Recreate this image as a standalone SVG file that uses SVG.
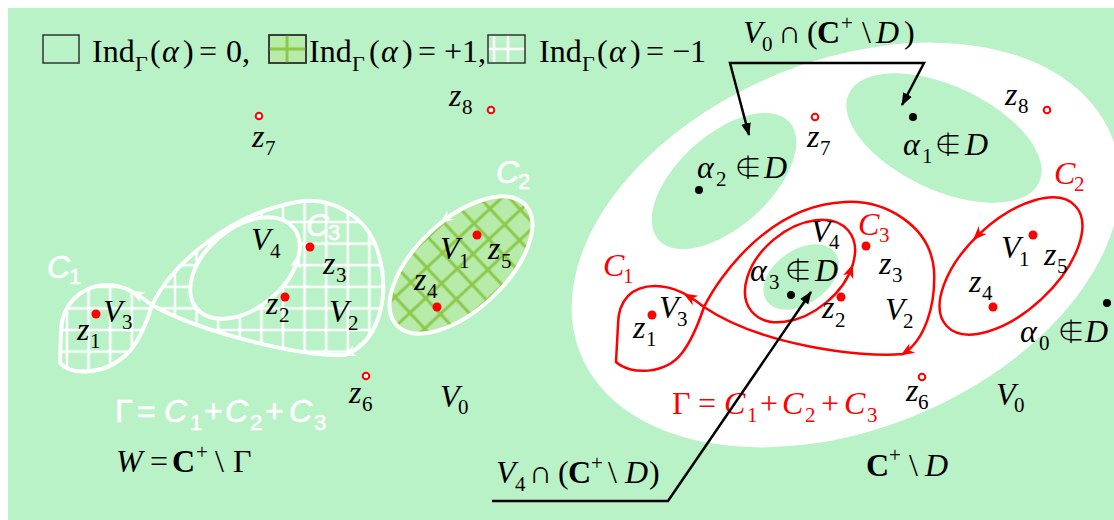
<svg xmlns="http://www.w3.org/2000/svg" xmlns:xlink="http://www.w3.org/1999/xlink" width="1114" height="520" viewBox="0 0 1114 520">
<style>
.bg{fill:#baf2c7}
.m{font-family:"Liberation Serif","Times New Roman",serif;font-size:32px;fill:#000}
.i{font-style:italic}
.s{font-size:21px}
.ls{font-size:22px}
.b{font-weight:bold}
.red{fill:#f00}
.ne{font-family:"Noto Sans CJK JP","DejaVu Sans",sans-serif;font-weight:300;font-size:28px}
.a{font-family:"Liberation Sans",Arial,sans-serif;font-size:32px;fill:#fff;stroke:#fff;stroke-width:0.6}
.ai{font-style:italic}
.as{font-size:22px}
.wc{fill:none;stroke:#fff;stroke-width:4}
.rc{fill:none;stroke:#f00;stroke-width:2.5}
.rd{fill:#f00}
.oc{fill:#fff;stroke:#f00;stroke-width:2}
.bd{fill:#000}
.cn{fill:none;stroke:#000;stroke-width:2.5}
.lb{stroke:#333;stroke-width:1.5}
</style>
<defs>
<pattern id="gw" patternUnits="userSpaceOnUse" x="56.2" y="211.2" width="21.6" height="21.6"><path d="M10.8 0V21.6M0 10.8H21.6" stroke="#fff" stroke-width="2.5"/></pattern>
<pattern id="gg" patternUnits="userSpaceOnUse" x="56.2" y="211.2" width="21.6" height="21.6"><rect width="21.6" height="21.6" fill="#b7eba9"/><path d="M10.8 0V21.6M0 10.8H21.6" stroke="#8dc84a" stroke-width="3"/></pattern>
<path id="ah" d="M3,0 L-11,-5.5 L-7,0 L-11,5.5 Z"/>
<marker id="mk" viewBox="0 0 12 10" refX="11" refY="5" markerWidth="13" markerHeight="11" markerUnits="userSpaceOnUse" orient="auto-start-reverse"><path d="M0,0.5 L12,5 L0,9.5 Z" fill="#000"/></marker>
</defs>
<rect width="1114" height="520" fill="#fff"/>
<rect class="bg" x="8" y="8" width="1106" height="512"/>

<g id="legend">
<rect x="43" y="35" width="36" height="28" fill="none" class="lb"/>
<rect x="269" y="35" width="37" height="28" fill="#b7eba9" class="lb"/>
<path d="M287 35V63M269 49H306" stroke="#8dc84a" stroke-width="3"/>
<rect x="269" y="35" width="37" height="28" fill="none" class="lb"/>
<path d="M508 35V63M494 35V63M488 49H525" stroke="#fff" stroke-width="2.5"/>
<rect x="488" y="35" width="37" height="28" fill="none" class="lb"/>
<text class="m" y="62"><tspan x="92">Ind</tspan><tspan x="135" y="71" class="ls">Γ</tspan><tspan x="150" y="62">(</tspan><tspan x="162" class="i">α</tspan><tspan x="183">)</tspan><tspan x="199">=</tspan><tspan x="226">0,</tspan></text>
<text class="m" y="62"><tspan x="309">Ind</tspan><tspan x="352" y="71" class="ls">Γ</tspan><tspan x="369" y="62">(</tspan><tspan x="381" class="i">α</tspan><tspan x="402">)</tspan><tspan x="418">=</tspan><tspan x="444">+1,</tspan></text>
<text class="m" y="62"><tspan x="539">Ind</tspan><tspan x="582" y="71" class="ls">Γ</tspan><tspan x="597" y="62">(</tspan><tspan x="609" class="i">α</tspan><tspan x="630">)</tspan><tspan x="646">=</tspan><tspan x="672">−1</tspan></text>
</g>

<g id="left-figure">
<path fill="url(#gw)" fill-rule="evenodd" d="M152,305 C170,268 225,215 297,202 C330,196 367,215 378,252 C390,292 382,340 345,355 C300,357 200,332 152,305 C135,292 122,284 104,285 C80,287 62,305 61,330 L60,363 C72,376 105,375 127,354 C138,343 146,325 152,305 Z M293.3,227.5 A63,40 -40 1,0 196.7,308.5 A63,40 -40 1,0 293.3,227.5 Z"/>
<path class="wc" d="M152,305 C170,268 225,215 297,202 C330,196 367,215 378,252 C390,292 382,340 345,355 C300,357 200,332 152,305 C135,292 122,284 104,285 C80,287 62,305 61,330 L60,363 C72,376 105,375 127,354 C138,343 146,325 152,305 Z"/>
<ellipse class="wc" cx="245" cy="268" rx="63" ry="40" transform="rotate(-40 245 268)"/>
<ellipse cx="461" cy="265" rx="88" ry="45" transform="rotate(-43 461 265)" fill="url(#gg)"/>
<ellipse class="wc" cx="461" cy="265" rx="88" ry="45" transform="rotate(-43 461 265)"/>
<use xlink:href="#ah" fill="#fff" transform="translate(133,292) rotate(209)"/>
<use xlink:href="#ah" fill="#fff" transform="translate(345,355) rotate(158)"/>
<use xlink:href="#ah" fill="#fff" transform="translate(298,257) rotate(-77)"/>
<use xlink:href="#ah" fill="#fff" transform="translate(442,222) rotate(142)"/>
<circle class="rd" cx="310" cy="247" r="4.5"/>
<circle class="rd" cx="285" cy="297" r="4.5"/>
<circle class="rd" cx="96" cy="314" r="4.5"/>
<circle class="rd" cx="477" cy="235" r="4.5"/>
<circle class="rd" cx="437" cy="307" r="4.5"/>
<circle class="oc" cx="259" cy="116" r="3.3"/>
<circle class="oc" cx="491" cy="110" r="3.3"/>
<circle class="oc" cx="366" cy="376" r="3.3"/>
<text class="a ai" x="47" y="278">C</text><text class="a as" x="69" y="284">1</text>
<text class="a ai" x="306" y="236">C</text><text class="a as" x="328" y="240">3</text>
<text class="a ai" x="496" y="183">C</text><text class="a as" x="518" y="189">2</text>
<text class="m i" x="252" y="147">z</text><text class="m s" x="265" y="155">7</text>
<text class="m i" x="449" y="106">z</text><text class="m s" x="462" y="114">8</text>
<text class="m i" x="251" y="250">V</text><text class="m s" x="270" y="258">4</text>
<text class="m i" x="323" y="274">z</text><text class="m s" x="336" y="282">3</text>
<text class="m i" x="266" y="314">z</text><text class="m s" x="279" y="322">2</text>
<text class="m i" x="329" y="322">V</text><text class="m s" x="348" y="330">2</text>
<text class="m i" x="103" y="322">V</text><text class="m s" x="122" y="329">3</text>
<text class="m i" x="77" y="340">z</text><text class="m s" x="90" y="348">1</text>
<text class="m i" x="440" y="259">V</text><text class="m s" x="459" y="268">1</text>
<text class="m i" x="488" y="259">z</text><text class="m s" x="501" y="268">5</text>
<text class="m i" x="414" y="290">z</text><text class="m s" x="427" y="298">4</text>
<text class="m i" x="349" y="403">z</text><text class="m s" x="362" y="411">6</text>
<text class="m i" x="440" y="407">V</text><text class="m s" x="458" y="414">0</text>
<text class="a" y="422"><tspan x="115">Γ</tspan><tspan x="137">=</tspan><tspan x="164" class="ai">C</tspan><tspan x="190" y="430" class="as">1</tspan><tspan x="204" y="422">+</tspan><tspan x="225" class="ai">C</tspan><tspan x="250" y="430" class="as">2</tspan><tspan x="265" y="422">+</tspan><tspan x="289" class="ai">C</tspan><tspan x="314" y="430" class="as">3</tspan></text>
<text class="m" y="472"><tspan x="116" class="i">W</tspan><tspan x="150">=</tspan><tspan x="172" class="b">C</tspan><tspan x="196" y="459" class="s">+</tspan><tspan x="215" y="472">\</tspan><tspan x="233">Γ</tspan></text>
</g>

<g id="right-figure">
<ellipse cx="846" cy="245" rx="287" ry="184" transform="rotate(-22.5 846 245)" fill="#fff"/>
<ellipse class="bg" cx="724" cy="181" rx="88" ry="46" transform="rotate(-42 724 181)"/>
<ellipse class="bg" cx="944" cy="138" rx="105" ry="52" transform="rotate(25 944 138)"/>
<ellipse class="bg" cx="801" cy="277" rx="42" ry="27" transform="rotate(-35 801 277)"/>
<path class="rc" d="M704,307 C720,275 770,205 845,202 C885,200 930,225 934,270 C936,305 925,340 903,354 C860,358 760,345 704,307 C690,296 675,286 655,286 C632,286 618,300 618,325 L616,362 C630,375 665,375 682,353 C692,340 698,325 704,307 Z"/>
<ellipse class="rc" cx="800" cy="271" rx="63" ry="41" transform="rotate(-40 800 271)"/>
<ellipse class="rc" cx="1011" cy="266" rx="88" ry="45" transform="rotate(-43 1011 266)"/>
<use xlink:href="#ah" fill="#f00" transform="translate(686,295) rotate(210)"/>
<use xlink:href="#ah" fill="#f00" transform="translate(903,354) rotate(148)"/>
<use xlink:href="#ah" fill="#f00" transform="translate(852,267) rotate(-69)"/>
<use xlink:href="#ah" fill="#f00" transform="translate(975,238) rotate(134)"/>
<circle class="bd" cx="699" cy="190" r="4"/>
<circle class="bd" cx="913" cy="117" r="4"/>
<circle class="bd" cx="791" cy="295" r="4"/>
<circle class="bd" cx="1107" cy="303" r="4"/>
<circle class="rd" cx="866" cy="246" r="4.5"/>
<circle class="rd" cx="841" cy="297" r="4.5"/>
<circle class="rd" cx="652" cy="315" r="4.5"/>
<circle class="rd" cx="1033" cy="235" r="4.5"/>
<circle class="rd" cx="993" cy="307" r="4.5"/>
<circle class="oc" cx="815" cy="117" r="3.3"/>
<circle class="oc" cx="1047" cy="110" r="3.3"/>
<circle class="oc" cx="922" cy="377" r="3.3"/>
<text class="m i red" x="603" y="276">C</text><text class="m s red" x="623" y="283">1</text>
<text class="m i red" x="1054" y="184">C</text><text class="m s red" x="1074" y="191">2</text>
<text class="m i red" x="858" y="235">C</text><text class="m s red" x="879" y="242">3</text>
<text class="m i" x="807" y="147">z</text><text class="m s" x="820" y="155">7</text>
<text class="m i" x="1005" y="105">z</text><text class="m s" x="1018" y="113">8</text>
<text class="m" y="178"><tspan x="697" class="i">α</tspan><tspan x="716" y="186" class="s">2</tspan><tspan x="734" y="178" class="ne">∉</tspan><tspan x="764" class="i">D</tspan></text>
<text class="m" y="155"><tspan x="903" class="i">α</tspan><tspan x="922" y="163" class="s">1</tspan><tspan x="934" y="155" class="ne">∉</tspan><tspan x="965" class="i">D</tspan></text>
<text class="m" y="281"><tspan x="750" class="i">α</tspan><tspan x="769" y="289" class="s">3</tspan><tspan x="784" y="281" class="ne">∉</tspan><tspan x="815" class="i">D</tspan></text>
<text class="m" y="342"><tspan x="1020" class="i">α</tspan><tspan x="1039" y="350" class="s">0</tspan><tspan x="1057" y="342" class="ne">∉</tspan><tspan x="1085" class="i">D</tspan></text>
<text class="m i" x="811" y="242">V</text><text class="m s" x="829" y="249">4</text>
<text class="m i" x="879" y="274">z</text><text class="m s" x="892" y="282">3</text>
<text class="m i" x="822" y="318">z</text><text class="m s" x="835" y="327">2</text>
<text class="m i" x="885" y="320">V</text><text class="m s" x="903" y="328">2</text>
<text class="m i" x="659" y="318">V</text><text class="m s" x="677" y="326">3</text>
<text class="m i" x="633" y="338">z</text><text class="m s" x="646" y="346">1</text>
<text class="m i" x="1001" y="258">V</text><text class="m s" x="1019" y="266">1</text>
<text class="m i" x="1044" y="265">z</text><text class="m s" x="1057" y="273">5</text>
<text class="m i" x="969" y="292">z</text><text class="m s" x="982" y="300">4</text>
<text class="m i" x="906" y="401">z</text><text class="m s" x="918" y="409">6</text>
<text class="m i" x="996" y="405">V</text><text class="m s" x="1014" y="412">0</text>
<text class="m red" y="414"><tspan x="672">Γ</tspan><tspan x="698">=</tspan><tspan x="724" class="i">C</tspan><tspan x="747" y="422" class="s">1</tspan><tspan x="760" y="414">+</tspan><tspan x="782" class="i">C</tspan><tspan x="805" y="422" class="s">2</tspan><tspan x="821" y="414">+</tspan><tspan x="844" class="i">C</tspan><tspan x="867" y="422" class="s">3</tspan></text>
<text class="m" y="476"><tspan x="866" class="b">C</tspan><tspan x="889" y="462" class="s">+</tspan><tspan x="909" y="476">\</tspan><tspan x="925" class="i">D</tspan></text>
</g>

<g id="connectors">
<text class="m" y="43"><tspan x="743" class="i">V</tspan><tspan x="762" y="51" class="s">0</tspan><tspan x="778" y="43">∩</tspan><tspan x="807">(</tspan><tspan x="817" class="b">C</tspan><tspan x="841" y="30" class="s">+</tspan><tspan x="862" y="43">\</tspan><tspan x="876" class="i">D</tspan><tspan x="904">)</tspan></text>
<path class="cn" d="M749,135 L730,63 L924,63 L902,105" marker-start="url(#mk)" marker-end="url(#mk)"/>
<text class="m" y="483"><tspan x="496" class="i">V</tspan><tspan x="515" y="491" class="s">4</tspan><tspan x="529" y="483">∩</tspan><tspan x="558">(</tspan><tspan x="568" class="b">C</tspan><tspan x="591" y="470" class="s">+</tspan><tspan x="608" y="483">\</tspan><tspan x="625" class="i">D</tspan><tspan x="649">)</tspan></text>
<path class="cn" d="M492,501 L668,501 L811,292" marker-end="url(#mk)"/>
</g>
</svg>
